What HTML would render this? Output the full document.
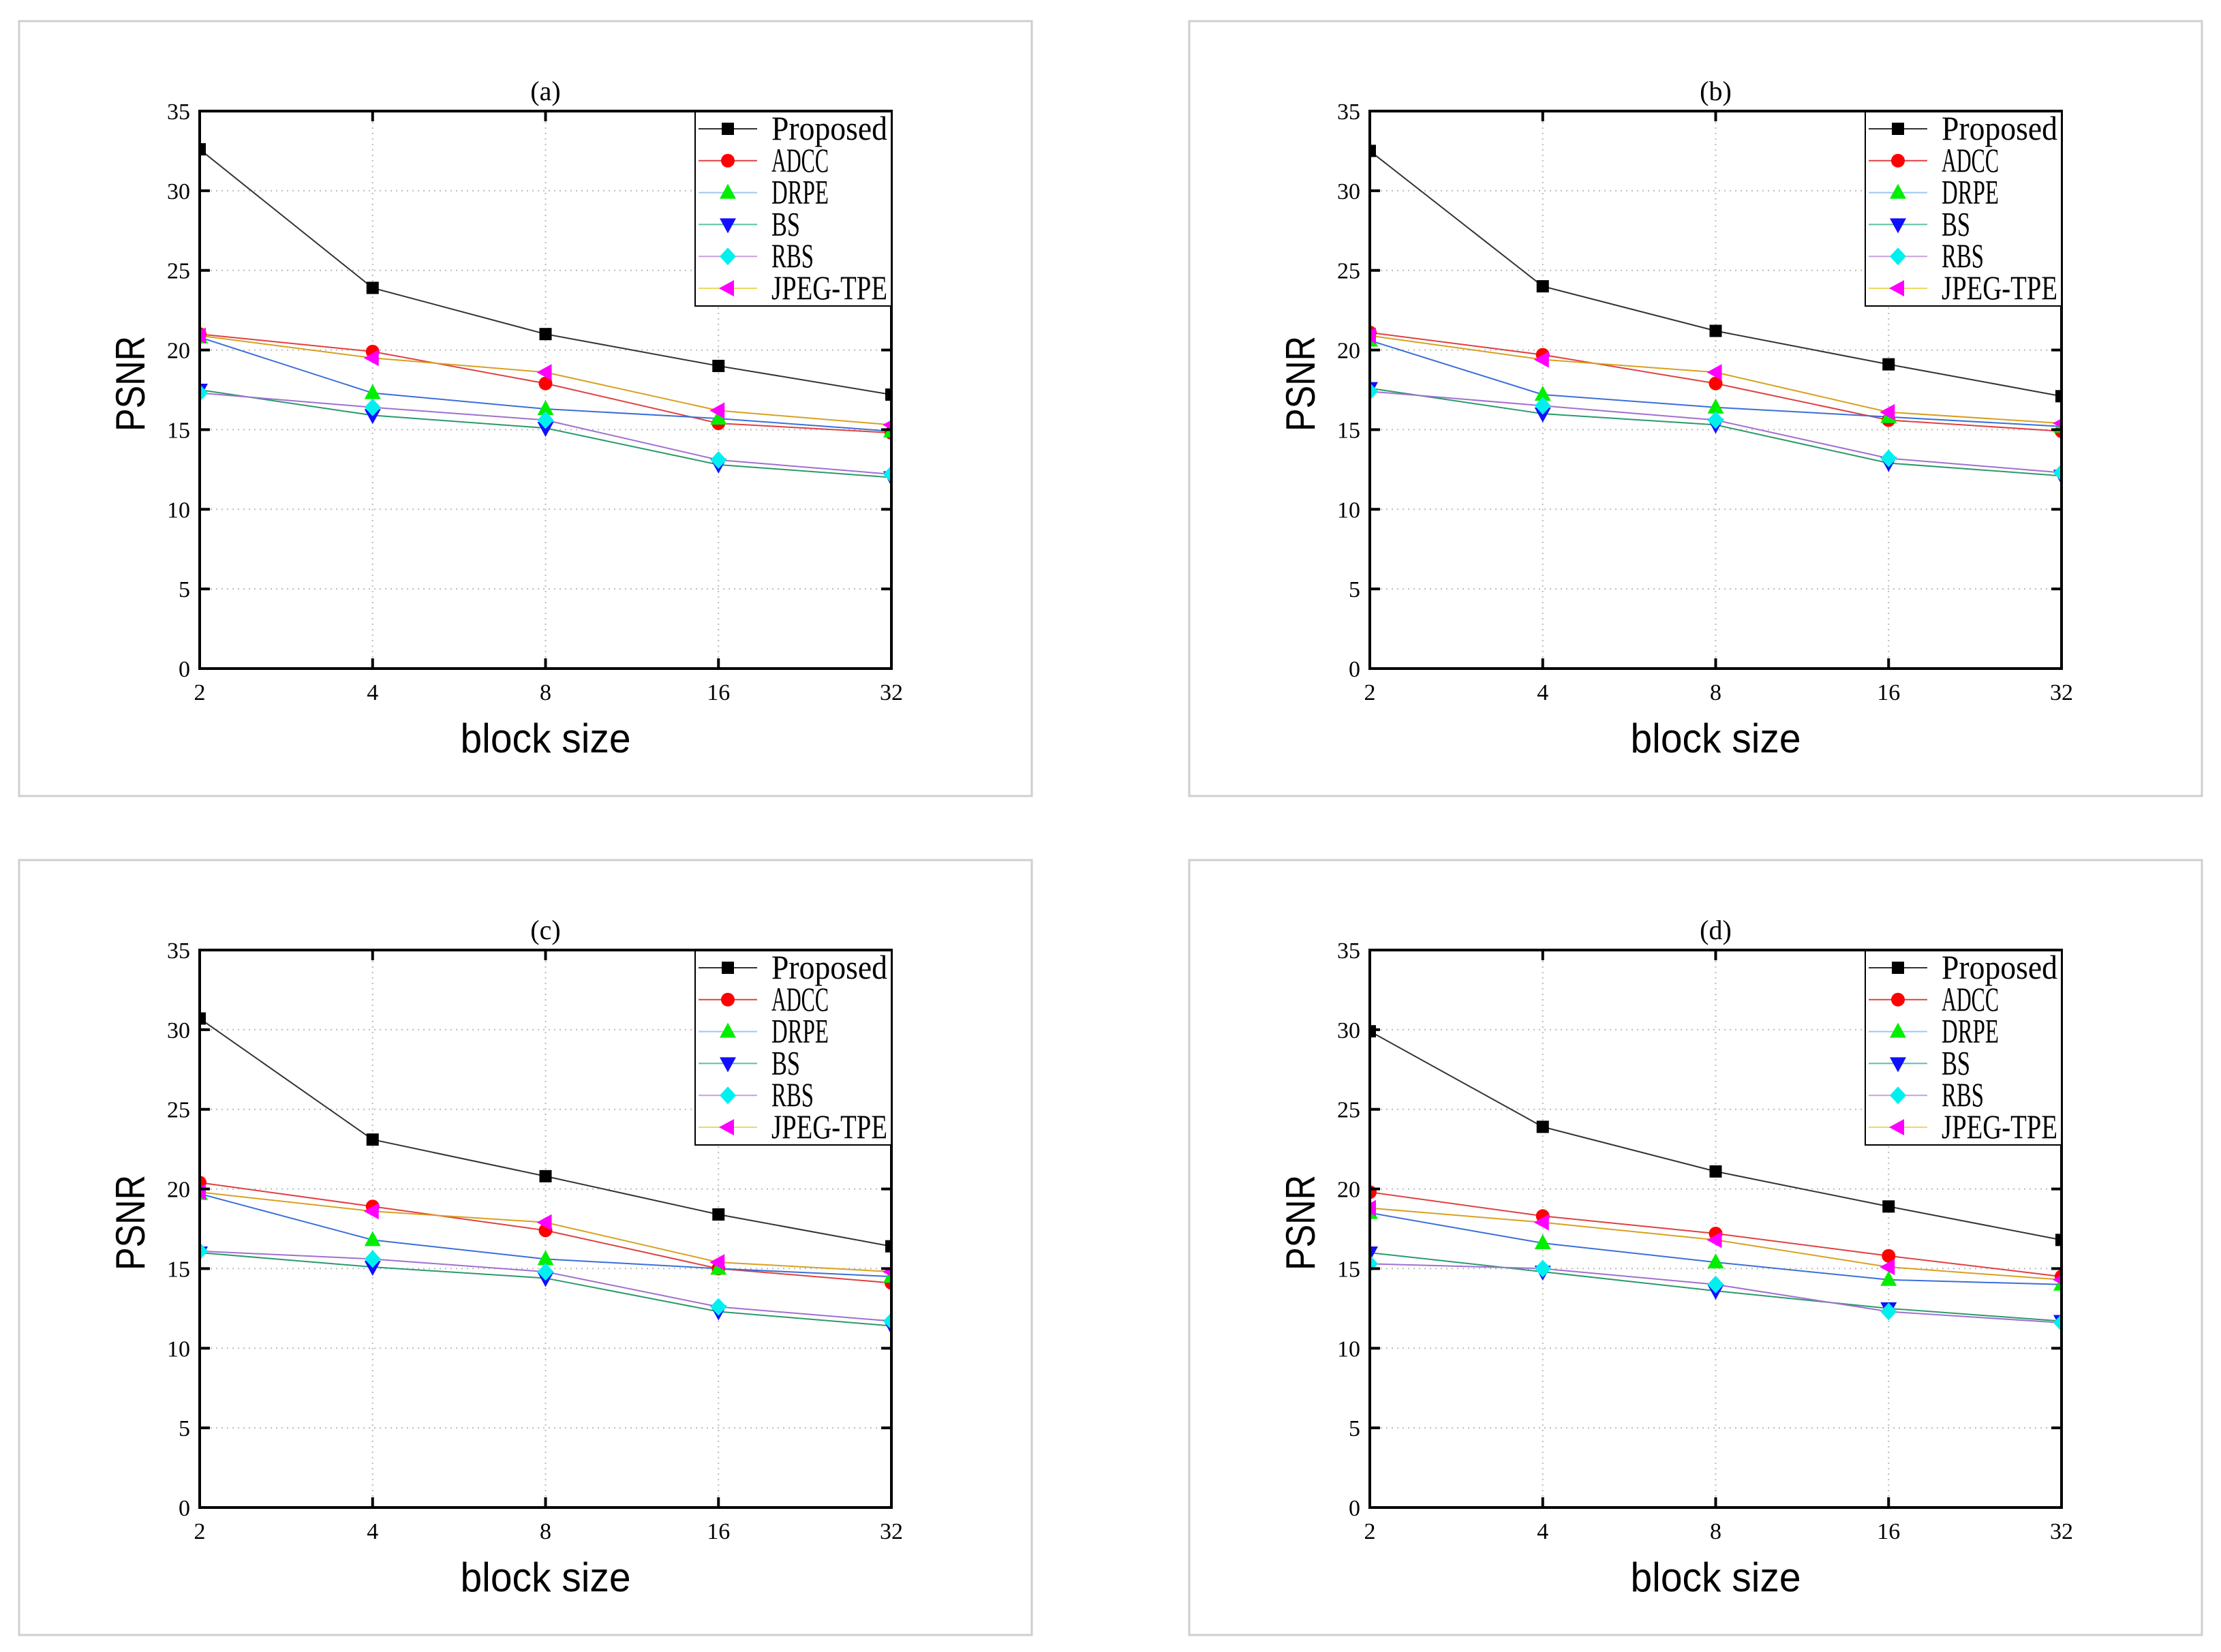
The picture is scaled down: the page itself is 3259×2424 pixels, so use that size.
<!DOCTYPE html>
<html><head><meta charset="utf-8">
<style>
html,body{margin:0;padding:0;background:#fff;}
svg{display:block;}
</style></head>
<body>
<svg id="chart" width="3259" height="2424" viewBox="0 0 3259 2424" xmlns="http://www.w3.org/2000/svg"></svg>
<script>
const categories = ["2","4","8","16","32"];
const yTicks = [0,5,10,15,20,25,30,35];
const seriesNames = ["Proposed","ADCC","DRPE","BS","RBS","JPEG-TPE"];
const panelTitles = ["(a)","(b)","(c)","(d)"];
const panelA_proposed = [32.6,23.9,21.0,19.0,17.2];
const panelA_adcc     = [21.0,19.9,17.9,15.4,14.8];
const panelA_drpe     = [20.8,17.3,16.3,15.7,14.9];
const panelA_bs       = [17.5,15.9,15.1,12.8,12.0];
const panelA_rbs      = [17.3,16.4,15.6,13.1,12.2];
const panelA_jpeg     = [20.9,19.5,18.6,16.2,15.3];
const panelB_proposed = [32.5,24.0,21.2,19.1,17.1];
const panelB_adcc     = [21.1,19.7,17.9,15.6,14.9];
const panelB_drpe     = [20.6,17.2,16.4,15.8,15.2];
const panelB_bs       = [17.6,16.0,15.3,12.9,12.1];
const panelB_rbs      = [17.4,16.5,15.6,13.2,12.3];
const panelB_jpeg     = [20.9,19.4,18.6,16.1,15.4];
const panelC_proposed = [30.7,23.1,20.8,18.4,16.4];
const panelC_adcc     = [20.4,18.9,17.4,15.0,14.1];
const panelC_drpe     = [19.7,16.8,15.6,15.0,14.5];
const panelC_bs       = [16.0,15.1,14.4,12.3,11.4];
const panelC_rbs      = [16.1,15.6,14.8,12.6,11.7];
const panelC_jpeg     = [19.8,18.6,17.9,15.4,14.8];
const panelD_proposed = [29.9,23.9,21.1,18.9,16.8];
const panelD_adcc     = [19.8,18.3,17.2,15.8,14.5];
const panelD_drpe     = [18.5,16.6,15.4,14.3,14.0];
const panelD_bs       = [16.0,14.8,13.6,12.5,11.7];
const panelD_rbs      = [15.3,15.0,14.0,12.3,11.6];
const panelD_jpeg     = [18.8,17.9,16.8,15.1,14.3];

const panels = [
  [panelA_proposed,panelA_adcc,panelA_drpe,panelA_bs,panelA_rbs,panelA_jpeg],
  [panelB_proposed,panelB_adcc,panelB_drpe,panelB_bs,panelB_rbs,panelB_jpeg],
  [panelC_proposed,panelC_adcc,panelC_drpe,panelC_bs,panelC_rbs,panelC_jpeg],
  [panelD_proposed,panelD_adcc,panelD_drpe,panelD_bs,panelD_rbs,panelD_jpeg]
];
const lineColors = ["#333","#e04040","#3a6fd8","#2a9a6a","#a070d0","#d8a020"];
const legendLineColors = ["#333","#e04040","#9ec8f0","#5cc0a0","#c8a0e0","#f0d860"];
const markerFill = ["#000","#ff0000","#00ee00","#1010ff","#00f0f0","#ff00ff"];
const shapes = ["square","circle","up","down","diamond","left"];
const legendTextWidths = [170,84,84,42,62,170];
const offsets = [[0,0],[1717,0],[0,1231],[1717,1231]];

const NS = "http://www.w3.org/2000/svg";
const svg = document.getElementById("chart");
function mk(tag, attrs, parent){
  const e = document.createElementNS(NS, tag);
  for (const k in attrs) e.setAttribute(k, attrs[k]);
  (parent||svg).appendChild(e);
  return e;
}
function marker(shape, cx, cy, fill, parent){
  let e;
  if (shape==="square") e = mk("rect",{x:cx-9,y:cy-9,width:18,height:18,fill:fill},parent);
  else if (shape==="circle") e = mk("circle",{cx:cx,cy:cy,r:10,fill:fill},parent);
  else if (shape==="up") e = mk("polygon",{points:`${cx},${cy-13} ${cx+12},${cy+9} ${cx-12},${cy+9}`,fill:fill},parent);
  else if (shape==="down") e = mk("polygon",{points:`${cx},${cy+13} ${cx+12},${cy-9} ${cx-12},${cy-9}`,fill:fill},parent);
  else if (shape==="diamond") e = mk("polygon",{points:`${cx},${cy-13} ${cx+12},${cy} ${cx},${cy+13} ${cx-12},${cy}`,fill:fill},parent);
  else e = mk("polygon",{points:`${cx-13},${cy} ${cx+9},${cy-12} ${cx+9},${cy+12}`,fill:fill},parent);
  return e;
}

panels.forEach((series, pi) => {
  const [dx, dy] = offsets[pi];
  const L = 293+dx, R = 1308+dx, T = 163+dy, B = 981+dy;
  const xs = i => L + (R-L)*i/(categories.length-1);
  const ys = v => B - (B-T)*v/35;
  const g = mk("g",{});
  
  

  const frame = mk("rect",{x:28+dx,y:31+dy,width:1486,height:1137,fill:"#fff",stroke:"#cfcfcf","stroke-width":3},g);
  
  

  const clipId = "clip"+pi;
  const cp = mk("clipPath",{id:clipId},g);
  mk("rect",{x:L,y:T,width:R-L,height:B-T},cp);

  yTicks.forEach(t => {
    if (t===0||t===35) return;
    const gl = mk("line",{x1:L,x2:R,y1:ys(t),y2:ys(t),stroke:"#bbb","stroke-width":2,"stroke-dasharray":"2,6"},g);
    
    
  });
  categories.forEach((c,i) => {
    if (i===0||i===categories.length-1) return;
    const gl = mk("line",{x1:xs(i),x2:xs(i),y1:T,y2:B,stroke:"#bbb","stroke-width":2,"stroke-dasharray":"2,6"},g);
    
    
  });

  const sg = mk("g",{"clip-path":`url(#${clipId})`},g);
  series.forEach((vals, si) => {
    const pts = vals.map((v,i)=>`${xs(i)},${ys(v)}`).join(" ");
    const pl = mk("polyline",{points:pts,fill:"none",stroke:lineColors[si],"stroke-width":2},sg);
    
    
  });
  series.forEach((vals, si) => {
    vals.forEach((v,i) => {
      const m = marker(shapes[si], xs(i), ys(v), markerFill[si], sg);
      
      
    });
  });

  const box = mk("rect",{x:L,y:T,width:R-L,height:B-T,fill:"none",stroke:"#000","stroke-width":4},g);
  
  

  yTicks.forEach(t => {
    const y = ys(t);
    mk("line",{x1:L,x2:L+15,y1:y,y2:y,stroke:"#000","stroke-width":4},g);
    mk("line",{x1:R-15,x2:R,y1:y,y2:y,stroke:"#000","stroke-width":4},g);
    const tl = mk("text",{x:L-14,y:y+12,"text-anchor":"end","font-family":"Liberation Serif, serif","font-size":34,fill:"#000"},g);
    tl.textContent = t;
    
    
  });
  categories.forEach((c,i) => {
    const x = xs(i);
    mk("line",{x1:x,x2:x,y1:B-15,y2:B,stroke:"#000","stroke-width":4},g);
    mk("line",{x1:x,x2:x,y1:T,y2:T+15,stroke:"#000","stroke-width":4},g);
    const tl = mk("text",{x:x,y:B+46,"text-anchor":"middle","font-family":"Liberation Serif, serif","font-size":34,fill:"#000"},g);
    tl.textContent = c;
    
    
  });

  const title = mk("text",{x:(L+R)/2,y:T-16,"text-anchor":"middle","font-family":"Liberation Serif, serif","font-size":40,fill:"#000"},g);
  title.textContent = panelTitles[pi];
  
  

  const xt = mk("text",{x:(L+R)/2,y:B+123,"text-anchor":"middle","font-family":"Liberation Sans, sans-serif","font-size":60,textLength:250,lengthAdjust:"spacingAndGlyphs",fill:"#000"},g);
  xt.textContent = "block size";
  
  

  const yt = mk("text",{x:0,y:0,"text-anchor":"middle","font-family":"Liberation Sans, sans-serif","font-size":60,textLength:140,lengthAdjust:"spacingAndGlyphs",fill:"#000",transform:`translate(${212+dx},${563+dy}) rotate(-90)`},g);
  yt.textContent = "PSNR";
  
  

  const lg = mk("g",{},g);
  
  
  mk("rect",{x:1020+dx,y:164+dy,width:288,height:285,fill:"#fff",stroke:"#000","stroke-width":2},lg);
  seriesNames.forEach((n, si) => {
    const y = 189 + si*46.8 + dy;
    const ent = mk("g",{},lg);
    
    
    mk("line",{x1:1025+dx,x2:1111+dx,y1:y,y2:y,stroke:legendLineColors[si],"stroke-width":2},ent);
    marker(shapes[si], 1068+dx, y, markerFill[si], ent);
    const tx = mk("text",{x:1132+dx,y:y+16,"font-family":"Liberation Serif, serif","font-size":50,textLength:legendTextWidths[si],lengthAdjust:"spacingAndGlyphs",fill:"#000"},ent);
    tx.textContent = n;
  });
});
</script>
</body></html>
